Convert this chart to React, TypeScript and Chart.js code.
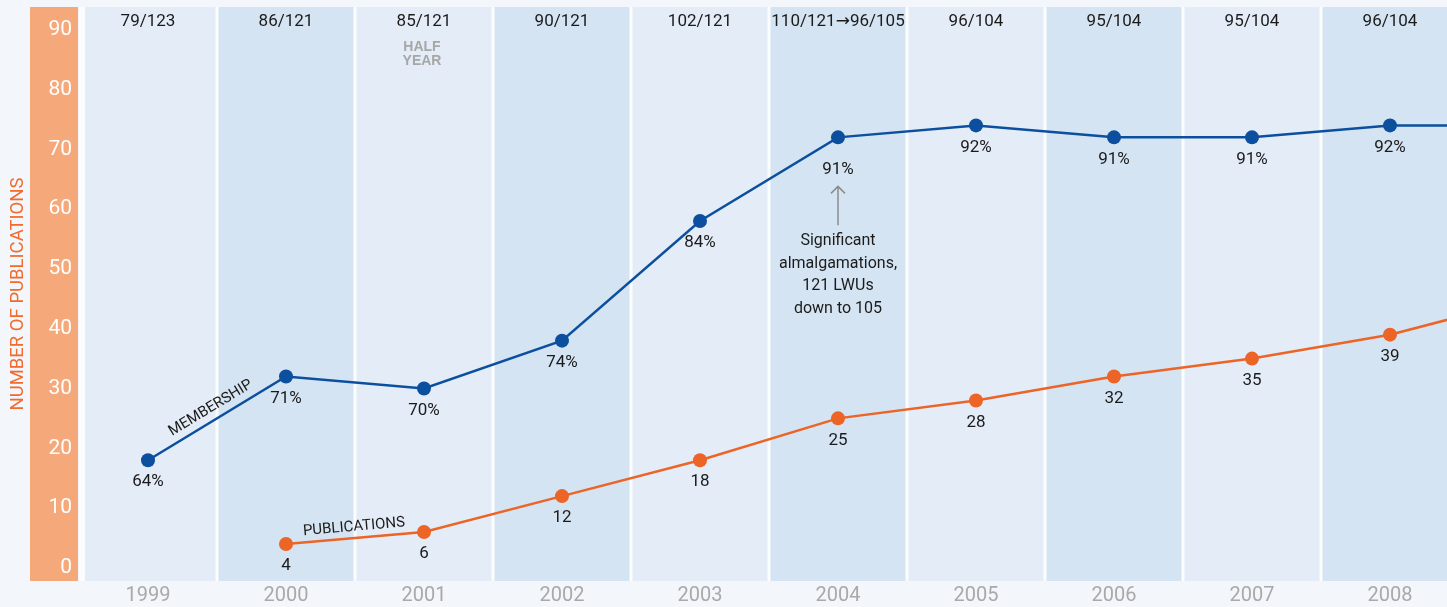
import { useEffect, useRef } from 'react';
import { Chart, registerables } from 'chart.js';

Chart.register(...registerables);

// ---------- data ----------
const years = [1999, 2000, 2001, 2002, 2003, 2004, 2005, 2006, 2007, 2008, 2009];
const axisYears = [1999, 2000, 2001, 2002, 2003, 2004, 2005, 2006, 2007, 2008];
const membershipPercent = [64, 71, 70, 74, 84, 91, 92, 91, 91, 92, 92];
const memberCounts = ['79/123', '86/121', '85/121', '90/121', '102/121', '110/121\u219296/105', '96/104', '95/104', '95/104', '96/104'];
const publications: (number | null)[] = [null, 4, 6, 12, 18, 25, 28, 32, 35, 39, 45];
const yTicks = [0, 10, 20, 30, 40, 50, 60, 70, 80, 90];
const annotationYear = 2004;
const annotationLines = ['Significant', 'almalgamations,', '121 LWUs', 'down to 105'];
const halfYearYear = 2001;
const halfYearLines = ['HALF', 'YEAR'];

// ---------- layout constants ----------
const W = 1447;
const H = 607;
const Y_MIN = -2.2;
const Y_MAX = 93.8;
const PCT_BASE = 55; // membership % mapped onto publications axis: y = 2*(pct-55)
const PCT_FACTOR = 2;
const X_MIN = 1998.5;
const COL_W = 138;
const AXIS_W = 79;
const X_MAX = X_MIN + (W - AXIS_W) / COL_W;

const FONT = 'Roboto, "DejaVu Sans", sans-serif';
const BLUE = '#0b4f9e';
const ORANGE = '#ec6426';

const decor = {
  id: 'decor',
  beforeDraw(chart: any) {
    const { ctx, chartArea: a, scales } = chart;
    const x = scales.x;
    ctx.save();
    ctx.fillStyle = '#f3f6fa';
    ctx.fillRect(0, 0, chart.width, chart.height);
    ctx.fillStyle = '#fbfcfe';
    ctx.fillRect(a.left, a.top, a.right - a.left, a.bottom - a.top);
    years.forEach((yr, i) => {
      let x0 = x.getPixelForValue(yr - 0.5) + 1.5;
      const x1 = Math.min(x.getPixelForValue(yr + 0.5) - 1.5, a.right);
      if (i === 0) x0 = a.left + 6;
      if (x1 <= x0) return;
      ctx.fillStyle = i % 2 === 0 ? '#e4edf7' : '#d5e4f2';
      ctx.fillRect(x0, a.top, x1 - x0, a.bottom - a.top);
    });
    ctx.fillStyle = '#f5a97a';
    ctx.fillRect(a.left - 49, a.top, 48, a.bottom - a.top);
    ctx.restore();
  },
  afterDatasetsDraw(chart: any) {
    const { ctx, chartArea: a, scales } = chart;
    const x = scales.x;
    const mMeta = chart.getDatasetMeta(0);
    const pMeta = chart.getDatasetMeta(1);
    ctx.save();
    ctx.textAlign = 'center';
    ctx.textBaseline = 'middle';

    // counts along the top
    ctx.fillStyle = '#1b1b1b';
    ctx.font = `17px ${FONT}`;
    memberCounts.forEach((t, i) => {
      ctx.fillText(t, x.getPixelForValue(years[i]), a.top + 15);
    });

    // HALF YEAR
    ctx.fillStyle = '#a7a7a7';
    ctx.font = `bold 14px "Liberation Sans", Arial, sans-serif`;
    halfYearLines.forEach((t, i) => {
      ctx.fillText(t, x.getPixelForValue(halfYearYear) - 2, a.top + 40 + i * 14);
    });

    // membership labels
    ctx.font = `17px ${FONT}`;
    ctx.fillStyle = '#1b1b1b';
    memberCounts.forEach((_, i) => {
      const p = mMeta.data[i];
      if (!p) return;
      const off = years[i] === annotationYear ? 32 : 22;
      ctx.fillText(membershipPercent[i] + '%', p.x, p.y + off);
    });
    // publication labels
    memberCounts.forEach((_, i) => {
      const v = publications[i];
      const p = pMeta.data[i];
      if (v == null || !p) return;
      ctx.fillText(String(v), p.x, p.y + 22);
    });

    // series names along the lines
    const along = (p0: any, p1: any, text: string, off: number) => {
      const ang = Math.atan2(p1.y - p0.y, p1.x - p0.x);
      ctx.save();
      ctx.translate((p0.x + p1.x) / 2, (p0.y + p1.y) / 2);
      ctx.rotate(ang);
      ctx.font = `15px ${FONT}`;
      ctx.fillStyle = '#1b1b1b';
      ctx.fillText(text, 0, -off);
      ctx.restore();
    };
    along(mMeta.data[0], mMeta.data[1], 'MEMBERSHIP', 12);
    along(pMeta.data[1], pMeta.data[2], 'PUBLICATIONS', 11);

    // annotation
    const ai = years.indexOf(annotationYear);
    const ap = mMeta.data[ai];
    if (ap) {
      const ax = ap.x;
      ctx.strokeStyle = '#8c8c8c';
      ctx.lineWidth = 1.5;
      ctx.beginPath();
      ctx.moveTo(ax, ap.y + 88);
      ctx.lineTo(ax, ap.y + 49);
      ctx.moveTo(ax - 7, ap.y + 56);
      ctx.lineTo(ax, ap.y + 49);
      ctx.lineTo(ax + 7, ap.y + 56);
      ctx.stroke();
      ctx.fillStyle = '#1b1b1b';
      ctx.font = `16px ${FONT}`;
      annotationLines.forEach((t, i) => {
        ctx.fillText(t, ax, ap.y + 104 + i * 22.5);
      });
    }
    ctx.restore();
  },
};

export default function App() {
  const ref = useRef<HTMLCanvasElement | null>(null);
  useEffect(() => {
    document.body.style.margin = '0';
    if (!ref.current) return;
    const chart = new Chart(ref.current, {
      type: 'line',
      data: {
        datasets: [
          {
            label: 'Membership',
            data: years.map((yr, i) => ({ x: yr, y: membershipPercent[i] })),
            yAxisID: 'y2',
            borderColor: BLUE,
            backgroundColor: BLUE,
            borderWidth: 2.5,
            pointRadius: 7,
            pointBorderWidth: 0,
            tension: 0,
          },
          {
            label: 'Publications',
            data: years.map((yr, i) => ({ x: yr, y: publications[i] })) as any,
            yAxisID: 'y',
            borderColor: ORANGE,
            backgroundColor: ORANGE,
            borderWidth: 2.5,
            pointRadius: 7,
            pointBorderWidth: 0,
            tension: 0,
          },
        ],
      },
      options: {
        animation: false,
        responsive: false,
        devicePixelRatio: 1,
        layout: { autoPadding: false, padding: { top: 7, left: 0, right: 0, bottom: 0 } },
        plugins: { legend: { display: false }, tooltip: { enabled: false } },
        events: [],
        scales: {
          x: {
            type: 'linear',
            min: X_MIN,
            max: X_MAX,
            grid: { display: false, drawTicks: false },
            border: { display: false },
            afterBuildTicks: (s: any) => {
              s.ticks = axisYears.map((v) => ({ value: v }));
            },
            afterFit: (s: any) => {
              s.height = 26;
              s.paddingLeft = 0;
              s.paddingRight = 0;
            },
            ticks: {
              color: '#a9a9a9',
              font: { family: FONT, size: 20 },
              padding: 3,
              maxRotation: 0,
              autoSkip: false,
              callback: (v: any) => String(v),
            },
          },
          y: {
            type: 'linear',
            position: 'left',
            min: Y_MIN,
            max: Y_MAX,
            grid: { display: false, drawTicks: false },
            border: { display: false },
            afterBuildTicks: (s: any) => {
              s.ticks = yTicks.map((v) => ({ value: v }));
            },
            afterFit: (s: any) => {
              s.width = AXIS_W;
              s.paddingTop = 0;
              s.paddingBottom = 0;
            },
            ticks: {
              color: '#ffffff',
              font: { family: FONT, size: 21 },
              padding: 7,
            },
            title: {
              display: true,
              text: 'NUMBER OF PUBLICATIONS',
              color: '#f26a2c',
              font: { family: FONT, size: 18.5 },
              padding: { top: 7, bottom: 0 },
            },
          },
          y2: {
            type: 'linear',
            display: false,
            min: PCT_BASE + Y_MIN / PCT_FACTOR,
            max: PCT_BASE + Y_MAX / PCT_FACTOR,
          },
        },
      },
      plugins: [decor],
    });
    return () => chart.destroy();
  }, []);
  return <canvas ref={ref} width={W} height={H} style={{ display: 'block' }} />;
}
